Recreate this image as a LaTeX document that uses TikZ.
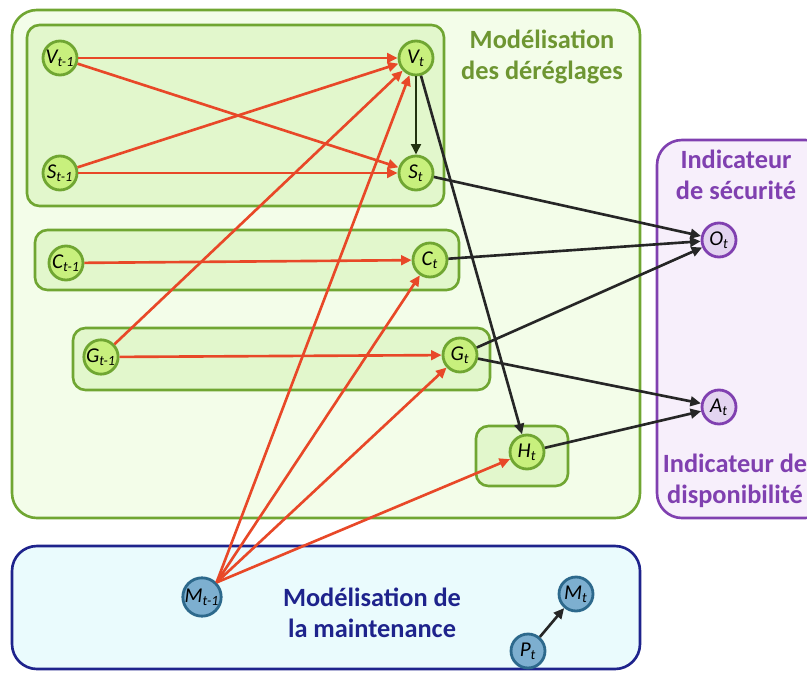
\documentclass[tikz,border=0pt]{standalone}
\usepackage{fontspec}
\setmainfont{Carlito}
\usepackage{xcolor}
\usepackage{tikz}
\usetikzlibrary{arrows.meta, positioning}

\definecolor{grnline}{RGB}{112,166,50}
\definecolor{grnback}{RGB}{243,253,233}
\definecolor{grnbox}{RGB}{226,247,204}
\definecolor{grnnode}{RGB}{200,240,125}
\definecolor{grntext}{RGB}{110,150,50}
\definecolor{prpline}{RGB}{128,64,176}
\definecolor{prpback}{RGB}{247,239,251}
\definecolor{prpnode}{RGB}{227,212,240}
\definecolor{blueline}{RGB}{30,35,140}
\definecolor{blueback}{RGB}{234,251,253}
\definecolor{bluenode}{RGB}{125,175,208}
\definecolor{bluenodeline}{RGB}{45,105,140}
\definecolor{redarrow}{RGB}{232,72,40}

\begin{document}
\begin{tikzpicture}[x=0.02cm, y=-0.02cm,
    var/.style={circle, draw, line width=1.6pt, minimum size=0.68cm, inner sep=0pt,
      font=\itshape\fontsize{12}{12}\selectfont},
    gvar/.style={var, draw=grnline, fill=grnnode},
    pvar/.style={var, draw=prpline, fill=prpnode},
    bvar/.style={var, draw=bluenodeline, fill=bluenode},
    bigbox/.style={line width=1.5pt, rounded corners=0.5cm},
    smallbox/.style={draw=grnline, fill=grnbox, line width=1.5pt, rounded corners=0.25cm},
    title/.style={align=center, font=\bfseries\fontsize{15}{17.5}\selectfont},
    dep/.style={draw=redarrow, line width=1.5pt, -{Triangle[length=6pt,width=5.5pt]}},
    infl/.style={draw=black!85, line width=1.5pt, -{Triangle[length=6pt,width=5.5pt]}}]
  \useasboundingbox (0,0) rectangle (807,672);

  % cadres
  \draw[bigbox, draw=grnline, fill=grnback] (12,10) rectangle (640,518);
  \draw[bigbox, draw=prpline, fill=prpback] (657,140) rectangle (830,518);
  \draw[bigbox, draw=blueline, fill=blueback] (12,546) rectangle (640,669);
  \draw[smallbox] (27,25) rectangle (444,206);
  \draw[smallbox] (35,230) rectangle (459,290);
  \draw[smallbox] (73,328) rectangle (490,390);
  \draw[smallbox] (476,426) rectangle (568,486);

  \node[title, text=grntext] (dereg) at (542,57) {Modélisation\\des déréglages};
  \node[title, text=prpline] (secu) at (736,175) {Indicateur\\de sécurité};
  \node[title, text=prpline] (dispo) at (735,481) {Indicateur de\\disponibilité};
  \node[title, text=blueline] (maint) at (372,613) {Modélisation de\\la maintenance};

  % variables
  \node[gvar] (V1) at (60,58) {V\textsubscript{t-1}};
  \node[gvar] (V) at (416,58) {V\textsubscript{t}};
  \node[gvar] (S1) at (60,173) {S\textsubscript{t-1}};
  \node[gvar] (S) at (416,173) {S\textsubscript{t}};
  \node[gvar] (C1) at (66,263) {C\textsubscript{t-1}};
  \node[gvar] (C) at (430,260) {C\textsubscript{t}};
  \node[gvar] (G1) at (101,357) {G\textsubscript{t-1}};
  \node[gvar] (G) at (460,355) {G\textsubscript{t}};
  \node[gvar] (H) at (527,452) {H\textsubscript{t}};
  \node[pvar] (O) at (719,240) {O\textsubscript{t}};
  \node[pvar] (A) at (719,407) {A\textsubscript{t}};
  \node[bvar] (M1) at (202,597) {M\textsubscript{t-1}};
  \node[bvar] (M) at (576,594) {M\textsubscript{t}};
  \node[bvar] (P) at (528,651) {P\textsubscript{t}};

  % liens temporels
  \draw[dep] (V1) -- (V);
  \draw[dep] (V1) -- (S);
  \draw[dep] (S1) -- (V);
  \draw[dep] (S1) -- (S);
  \draw[dep] (C1) -- (C);
  \draw[dep] (G1) -- (G);
  \draw[dep] (G1) -- (V);
  \draw[dep] (M1.north east) -- (V);
  \draw[dep] (M1.north east) -- (C);
  \draw[dep] (M1.north east) -- (G);
  \draw[dep] (M1.north east) -- (H);

  % liens instantanes
  \draw[infl, draw=black!70!grnline] (V) -- (S);
  \draw[infl] (V) -- (H);
  \draw[infl] (S) -- (O);
  \draw[infl] (C) -- (O);
  \draw[infl] (G) -- (O);
  \draw[infl] (G) -- (A);
  \draw[infl] (H) -- (A);
  \draw[infl] (P) -- (M);
\end{tikzpicture}
\end{document}
